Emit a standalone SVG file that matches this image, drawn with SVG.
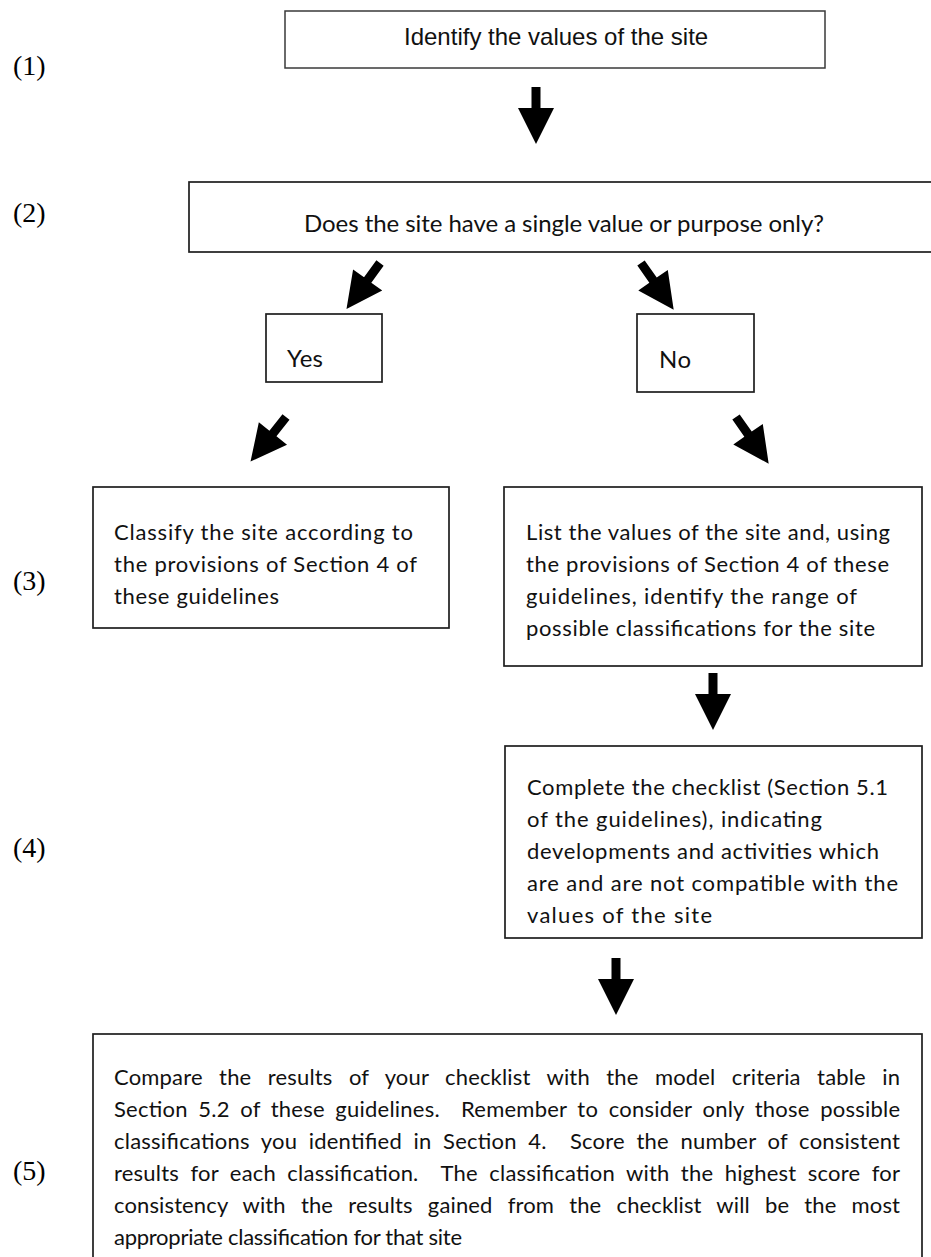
<svg xmlns="http://www.w3.org/2000/svg" width="931" height="1257" viewBox="0 0 931 1257">
<style>
  .box { fill: #ffffff; stroke: #1e1e1e; stroke-width: 1.7; }
  .top { stroke: #3a3a3a; stroke-width: 1.5; }
  .lbl { font-family: "Liberation Serif", "Times New Roman", serif; font-size: 28px; fill: #000; }
  .arial { font-family: "Liberation Sans", Arial, sans-serif; font-size: 24px; fill: #111; }
  .t { font-family: Lato, "Noto Sans", sans-serif; font-size: 22px; fill: #111; white-space: pre; }
  .big { font-size: 24px; }
  .arrow { fill: #000; }
</style>
<defs>
  <path id="arr" d="M -4.5 0 L 4.5 0 L 4.5 21 L 18 21 L 0 57 L -18 21 L -4.5 21 Z"/>
</defs>
<rect width="931" height="1257" fill="#ffffff"/>

<g id="labels">
  <text class="lbl" x="13" y="75">(1)</text>
  <text class="lbl" x="13" y="222">(2)</text>
  <text class="lbl" x="13" y="590">(3)</text>
  <text class="lbl" x="13" y="857">(4)</text>
  <text class="lbl" x="13" y="1180">(5)</text>
</g>

<g id="node1">
  <rect class="box top" x="285" y="11" width="540" height="57"/>
  <text class="arial" x="404" y="45">Identify the values of the site</text>
</g>

<g id="node2">
  <rect class="box" x="189" y="182" width="760" height="70"/>
  <text class="t big" x="304" y="232" textLength="520" lengthAdjust="spacing">Does the site have a single value or purpose only?</text>
</g>

<g id="yes">
  <rect class="box" x="266" y="314" width="116" height="68"/>
  <text class="t big" x="287" y="367" textLength="36" lengthAdjust="spacing">Yes</text>
</g>

<g id="no">
  <rect class="box" x="637" y="314" width="117" height="78"/>
  <text class="t big" x="659" y="368" textLength="32" lengthAdjust="spacing">No</text>
</g>

<g id="node3a">
  <rect class="box" x="93" y="487" width="356" height="141"/>
  <text class="t" x="114" y="540" textLength="299" lengthAdjust="spacing">Classify the site according to</text>
  <text class="t" x="114" y="572" textLength="303" lengthAdjust="spacing">the provisions of Section 4 of</text>
  <text class="t" x="114" y="604" textLength="165" lengthAdjust="spacing">these guidelines</text>
</g>

<g id="node3b">
  <rect class="box" x="504" y="487" width="418" height="179"/>
  <text class="t" x="526" y="540" textLength="364" lengthAdjust="spacing">List the values of the site and, using</text>
  <text class="t" x="526" y="572" textLength="363" lengthAdjust="spacing">the provisions of Section 4 of these</text>
  <text class="t" x="526" y="604" textLength="331" lengthAdjust="spacing">guidelines, identify the range of</text>
  <text class="t" x="526" y="636" textLength="349" lengthAdjust="spacing">possible classifications for the site</text>
</g>

<g id="node4">
  <rect class="box" x="505" y="746" width="417" height="192"/>
  <text class="t" x="527" y="795" textLength="361" lengthAdjust="spacing">Complete the checklist (Section 5.1</text>
  <text class="t" x="527" y="827" textLength="295" lengthAdjust="spacing">of the guidelines), indicating</text>
  <text class="t" x="527" y="859" textLength="352" lengthAdjust="spacing">developments and activities which</text>
  <text class="t" x="527" y="891" textLength="371" lengthAdjust="spacing">are and are not compatible with the</text>
  <text class="t" x="527" y="923" textLength="185" lengthAdjust="spacing">values of the site</text>
</g>

<g id="node5">
  <rect class="box" x="93" y="1034" width="829" height="240"/>
  <text class="t" x="114" y="1085" word-spacing="10.6" textLength="786" lengthAdjust="spacing">Compare the results of your checklist with the model criteria table in</text>
  <text class="t" x="114" y="1117" word-spacing="4.7" textLength="786" lengthAdjust="spacing">Section 5.2 of these guidelines.  Remember to consider only those possible</text>
  <text class="t" x="114" y="1149" word-spacing="5.7" textLength="786" lengthAdjust="spacing">classifications you identified in Section 4.  Score the number of consistent</text>
  <text class="t" x="114" y="1181" word-spacing="5.5" textLength="786" lengthAdjust="spacing">results for each classification.  The classification with the highest score for</text>
  <text class="t" x="114" y="1213" word-spacing="9.4" textLength="786" lengthAdjust="spacing">consistency with the results gained from the checklist will be the most</text>
  <text class="t" x="114" y="1245" textLength="348" lengthAdjust="spacing">appropriate classification for that site</text>
</g>

<g id="connectors" class="arrow">
  <use href="#arr" transform="translate(536,87)"/>
  <use href="#arr" transform="translate(380,263) rotate(36)"/>
  <use href="#arr" transform="translate(641,263) rotate(-35)"/>
  <use href="#arr" transform="translate(286,417) rotate(38.5)"/>
  <use href="#arr" transform="translate(736,417) rotate(-35)"/>
  <use href="#arr" transform="translate(713,673)"/>
  <use href="#arr" transform="translate(616,958)"/>
</g>
</svg>
